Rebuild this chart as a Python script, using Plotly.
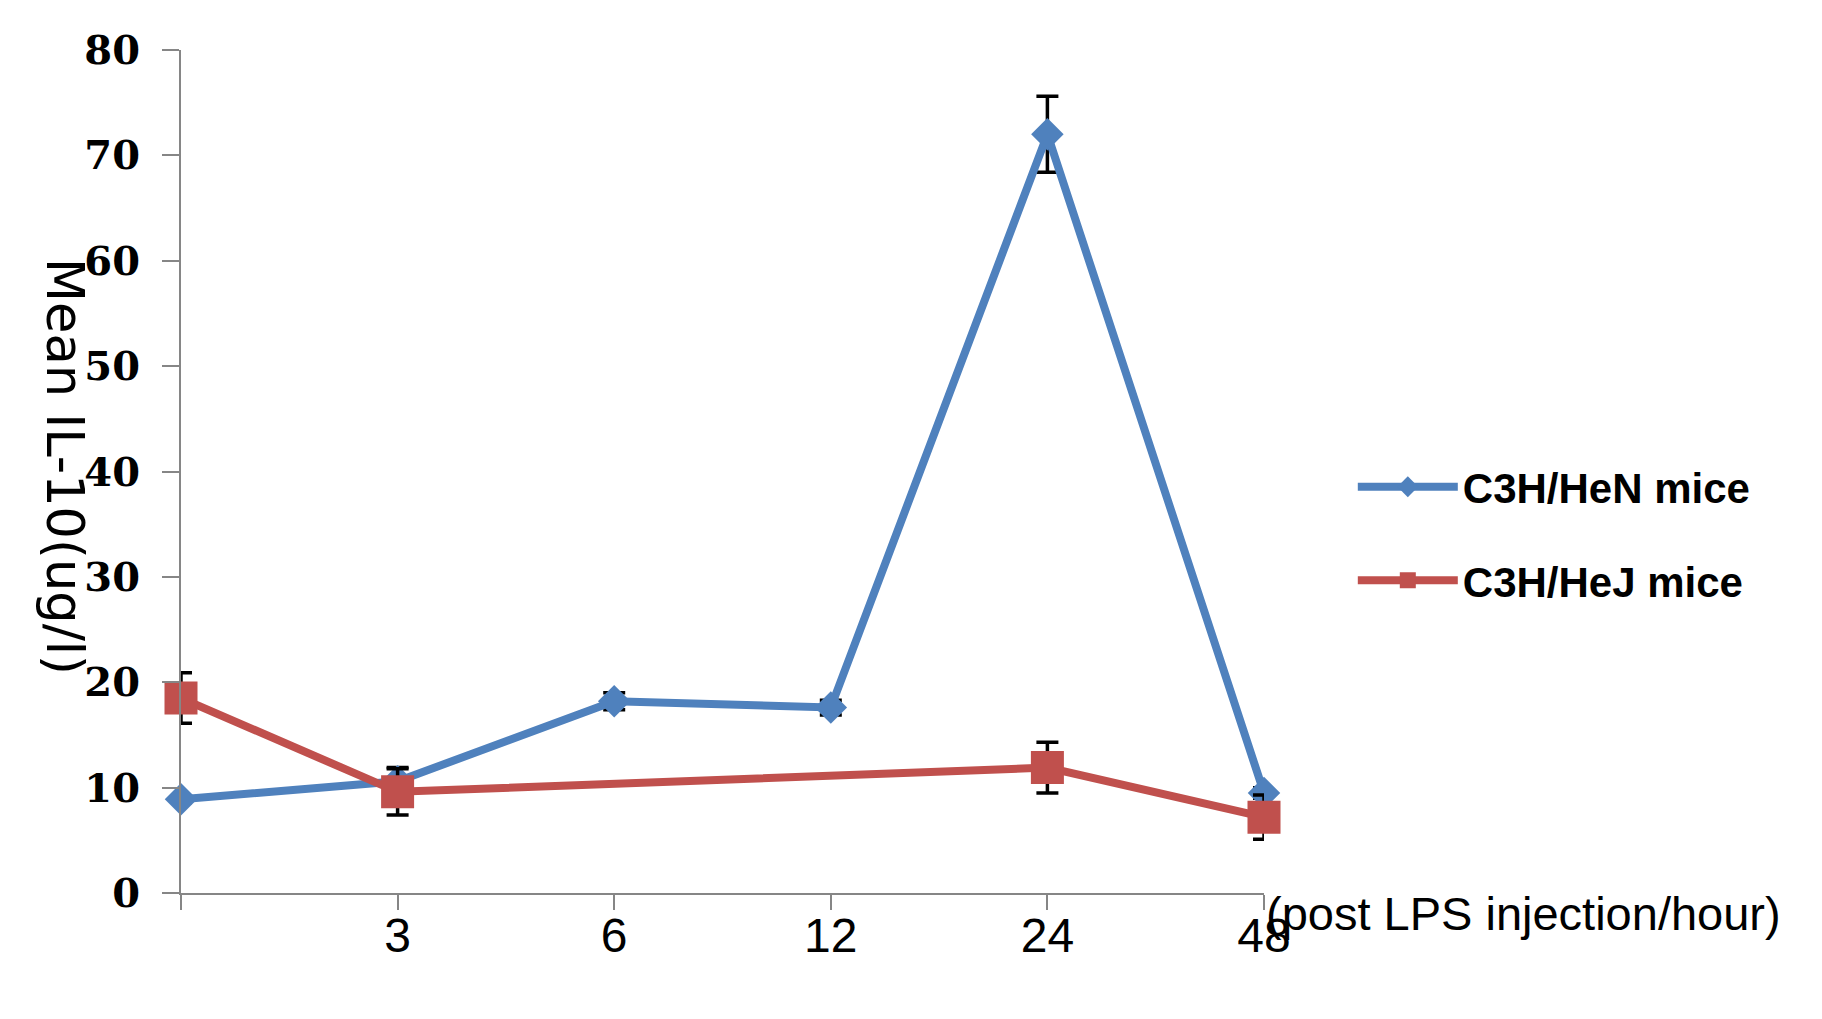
import plotly.graph_objects as go

categories = ["0", "3", "6", "12", "24", "48"]
tick_labels = ["", "3", "6", "12", "24", "48"]
hen_values = [8.9, 10.6, 18.2, 17.6, 72.0, 9.5]
hen_errors = [0.3, 1.3, 0.8, 0.7, 3.6, 0.5]
hej_values = [18.5, 9.6, None, None, 11.9, 7.2]
hej_errors = [2.4, 2.2, 0, 0, 2.4, 2.1]
y_ticks = [0, 10, 20, 30, 40, 50, 60, 70, 80]

xpos = list(range(len(categories)))

fig = go.Figure()
fig.add_trace(go.Scatter(
    x=xpos, y=hen_values, name="C3H/HeN mice", mode="lines+markers",
    line=dict(color="#4F81BD", width=8),
    marker=dict(symbol="diamond", size=25, color="#4F81BD"),
    error_y=dict(type="data", array=hen_errors, visible=True, color="black", thickness=3.5, width=11),
    cliponaxis=False, legendgroup="a",
))
fig.add_trace(go.Scatter(
    x=xpos, y=hej_values, name="C3H/HeJ mice", mode="lines+markers",
    connectgaps=True,
    line=dict(color="#C0504D", width=8),
    marker=dict(symbol="square", size=33, color="#C0504D"),
    error_y=dict(type="data", array=hej_errors, visible=True, color="black", thickness=3.5, width=11),
    cliponaxis=False, legendgroup="b",
))

fig.update_layout(
    width=1822, height=1019,
    margin=dict(l=173, r=566, t=42, b=134),
    plot_bgcolor="white", paper_bgcolor="white",
    showlegend=True,
    legend=dict(
        x=1.082, y=0.522, xanchor="left", yanchor="top",
        font=dict(family="Liberation Sans", size=42, color="black", weight="bold"),
        traceorder="grouped", tracegroupgap=36,
        bgcolor="rgba(0,0,0,0)", itemwidth=100,
    ),
    xaxis=dict(
        range=[0, 5], tickmode="array", tickvals=xpos, ticktext=tick_labels,
        showline=True, linecolor="#868686", linewidth=2,
        ticks="outside", ticklen=15, tickcolor="#868686", tickwidth=2,
        showgrid=False, zeroline=False,
        tickfont=dict(family="Liberation Sans", size=48, color="black"),
        ticklabelstandoff=-16,
    ),
    yaxis=dict(
        range=[0, 80], tickmode="array", tickvals=y_ticks,
        showline=True, linecolor="#868686", linewidth=2,
        ticks="outside", ticklen=17, tickcolor="#868686", tickwidth=2,
        showgrid=False, zeroline=False,
        tickfont=dict(family="DejaVu Serif", size=40, color="black", weight="bold"),
        ticklabelstandoff=14,
    ),
    annotations=[
        dict(text="Mean IL-10(ug/l)", xref="paper", yref="paper", x=0, y=0.5065,
             xshift=-116, textangle=90, showarrow=False,
             font=dict(family="DejaVu Sans", size=51, color="black"),
             xanchor="center", yanchor="middle"),
        dict(text="(post LPS injection/hour)", xref="paper", yref="paper", x=1, y=0,
             xshift=0, yshift=-20, showarrow=False, xanchor="left", yanchor="middle",
             font=dict(family="Liberation Sans", size=47, color="black")),
    ],
)

fig.write_html("out.html")
